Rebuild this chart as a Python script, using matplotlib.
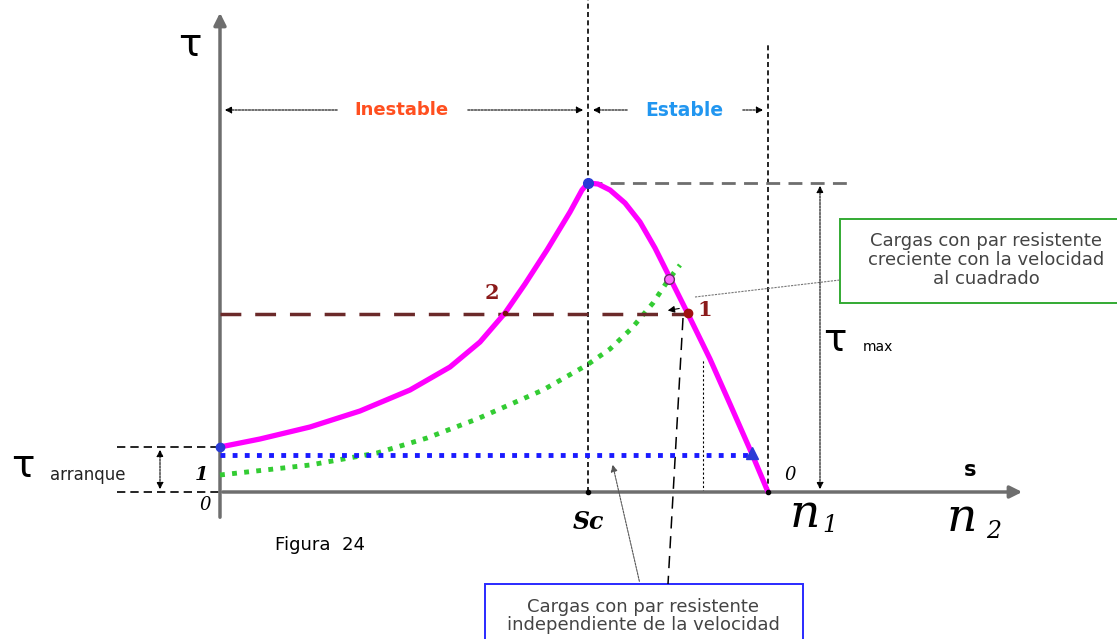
import numpy as np
import matplotlib.pyplot as plt
from matplotlib.patches import Rectangle

# Curva par-deslizamiento (unidades del esquema: x = posición, y = par)
curve_x = [0, 40, 90, 140, 190, 230, 260, 285, 305, 327, 350, 362, 368,
           378, 390, 405, 420, 435, 450, 468, 490, 510, 532, 548]
curve_y = [45, 53, 65, 81, 102, 125, 150, 179, 208, 242, 280, 302, 309,
           308, 302, 289, 270, 244, 214, 178, 133, 88, 38, 0]

# Carga creciente con la velocidad al cuadrado
quad_x = [0, 90, 157, 207, 257, 323, 367, 390, 412, 433, 449, 460]
quad_y = [17, 27, 39, 54, 73, 102, 127, 143, 164, 189, 213, 227]

# Carga constante
const_x = [0, 532]
const_y = [37, 37]

# Puntos notables
sc_x, t_max = 368, 309
n1_x = 548
t_arr = 45
t_work = 178
p1_x = 468
p2_x = 285
cross_x, cross_y = 449, 213

fig = plt.figure(figsize=(11.17, 6.39), dpi=100)
ax = fig.add_axes([0, 0, 1, 1])
ax.set_xlim(-220, 897)
ax.set_ylim(-147, 492)
ax.axis('off')

grey = '#6e6e6e'

# ejes
ax.annotate('', xy=(0, 482), xytext=(0, -28),
            arrowprops=dict(arrowstyle='-|>', color=grey, lw=2.5, mutation_scale=18))
ax.annotate('', xy=(805, 0), xytext=(0, 0),
            arrowprops=dict(arrowstyle='-|>', color=grey, lw=2.5, mutation_scale=18))

# lineas verticales de referencia
ax.plot([sc_x, sc_x], [0, 492], color='black', ls=(0, (3, 2)), lw=1.2)
ax.plot([n1_x, n1_x], [0, 447], color='black', ls=(0, (3, 2)), lw=1.2)
ax.plot([483, 483], [0, 132], color='black', ls=(0, (2, 2)), lw=0.8)

# Inestable / Estable
ax.annotate('', xy=(2, 382), xytext=(120, 382),
            arrowprops=dict(arrowstyle='-|>', color='black', ls=(0, (2, 1)), lw=0.8))
ax.annotate('', xy=(sc_x - 2, 382), xytext=(245, 382),
            arrowprops=dict(arrowstyle='-|>', color='black', ls=(0, (2, 1)), lw=0.8))
ax.annotate('', xy=(sc_x + 2, 382), xytext=(410, 382),
            arrowprops=dict(arrowstyle='-|>', color='black', ls=(0, (2, 1)), lw=0.8))
ax.annotate('', xy=(n1_x - 2, 382), xytext=(520, 382),
            arrowprops=dict(arrowstyle='-|>', color='black', ls=(0, (2, 1)), lw=0.8))
ax.text(181, 382, 'Inestable', color='#ff4f1f', fontsize=13, fontweight='bold',
        ha='center', va='center')
ax.text(464, 382, 'Estable', color='#2196f0', fontsize=13.5, fontweight='bold',
        ha='center', va='center')

# par maximo
ax.plot([sc_x, 630], [t_max, t_max], color=grey, ls=(0, (5, 3)), lw=2)
ax.annotate('', xy=(600, t_max), xytext=(600, 0),
            arrowprops=dict(arrowstyle='<|-|>', color='black', ls=(0, (2, 1)), lw=0.8))

# par de arranque
ax.plot([-103, 0], [t_arr, t_arr], color='black', ls=(0, (5, 3)), lw=1.2)
ax.plot([-103, 0], [0, 0], color='black', ls=(0, (5, 3)), lw=1.2)
ax.annotate('', xy=(-60, t_arr), xytext=(-60, 0),
            arrowprops=dict(arrowstyle='<|-|>', color='black', ls=(0, (2, 1)), lw=0.8))

# curvas
ax.plot(curve_x, curve_y, color='#ff00ff', lw=3.8, solid_capstyle='round',
        solid_joinstyle='round', zorder=4)
ax.plot(quad_x, quad_y, color='#33cc33', lw=3.5, ls=(0, (1, 1.5)), zorder=3)
ax.plot(const_x, const_y, color='#1a1aff', lw=3.5, ls=(0, (1, 1.5)), zorder=3)
ax.plot([0, p1_x], [t_work, t_work], color='#6b2a2a', lw=2.5, ls=(0, (6, 4)), zorder=3)

# marcadores
ax.plot([0], [t_arr], 'o', color='#2a3bd6', ms=6, zorder=5)
ax.plot([sc_x], [t_max], 'o', color='#2a3bd6', ms=7, zorder=5)
ax.plot([532], [39], '^', color='#2a3bd6', ms=8, zorder=5)
ax.plot([p1_x], [t_work + 1], 'o', color='#a01010', ms=6, zorder=5)
ax.plot([p2_x], [t_work + 1], 'o', color='#7a1010', ms=3, zorder=5)
ax.plot([cross_x], [cross_y], 'o', mfc='#ff66ff', mec='#6b2a6b', ms=7, zorder=5)
ax.plot([sc_x], [0], 'o', color='black', ms=3, zorder=5)
ax.plot([n1_x], [0], 'o', color='black', ms=3, zorder=5)

ax.text(p2_x - 13, 199, '2', color='#8b1a1a', fontsize=15, fontweight='bold',
        family='DejaVu Serif', ha='center', va='center')
ax.text(p1_x + 17, 182, '1', color='#8b1a1a', fontsize=15, fontweight='bold',
        family='DejaVu Serif', ha='center', va='center')
ax.annotate('', xy=(445, 181), xytext=(462, 184),
            arrowprops=dict(arrowstyle='-|>', color='black', lw=0.8))

# etiquetas de ejes
ax.text(-30, 447, 'τ', fontsize=28, ha='center', va='center')
ax.text(-197, 26, 'τ', fontsize=28, ha='center', va='center')
ax.text(-132, 17, 'arranque', fontsize=12, color='#222222', ha='center', va='center')
ax.text(615, 152, 'τ', fontsize=28, ha='center', va='center')
ax.text(658, 145, 'max', fontsize=10, ha='center', va='center')
ax.text(-18, 17, '1', fontsize=14, style='italic', fontweight='bold',
        family='DejaVu Serif', ha='center', va='center')
ax.text(-15, -13, '0', fontsize=13, style='italic', family='DejaVu Serif',
        ha='center', va='center')
ax.text(570, 17, '0', fontsize=13, style='italic', family='DejaVu Serif',
        ha='center', va='center')
ax.text(750, 22, 's', fontsize=15, fontweight='bold', ha='center', va='center')
ax.text(sc_x, -30, 'Sc', fontsize=17, style='italic', fontweight='bold',
        family='DejaVu Serif', ha='center', va='center')
ax.text(585, -22, 'n', fontsize=34, style='italic', family='DejaVu Serif',
        ha='center', va='center')
ax.text(610, -34, '1', fontsize=17, style='italic', family='DejaVu Serif',
        ha='center', va='center')
ax.text(742, -26, 'n', fontsize=34, style='italic', family='DejaVu Serif',
        ha='center', va='center')
ax.text(774, -40, '2', fontsize=17, style='italic', family='DejaVu Serif',
        ha='center', va='center')
ax.text(100, -53, 'Figura  24', fontsize=13, ha='center', va='center')

# llamadas
ax.add_patch(Rectangle((265, -160), 318, 68, fc='white', ec='#2a2aff', lw=1.4,
                       clip_on=False, zorder=2))
ax.text(423, -124, 'Cargas con par resistente\nindependiente de la velocidad',
        fontsize=13, color='#444444', ha='center', va='center', linespacing=1.05,
        zorder=3)
ax.annotate('', xy=(392, 30), xytext=(420, -92),
            arrowprops=dict(arrowstyle='-|>', color='#555555', ls=(0, (2, 1)), lw=0.8))
ax.plot([463, 448], [174, -92], color='black', ls=(0, (8, 5)), lw=1.1)

ax.add_patch(Rectangle((620, 189), 300, 84, fc='white', ec='#33aa33', lw=1.4,
                       clip_on=False, zorder=2))
ax.text(766, 232, 'Cargas con par resistente\ncreciente con la velocidad\nal cuadrado',
        fontsize=13, color='#444444', ha='center', va='center', linespacing=1.05,
        zorder=3)
ax.plot([475, 620], [195, 212], color='#777777', ls=(0, (2, 1)), lw=0.8)

fig.savefig('out.png', dpi=100)
